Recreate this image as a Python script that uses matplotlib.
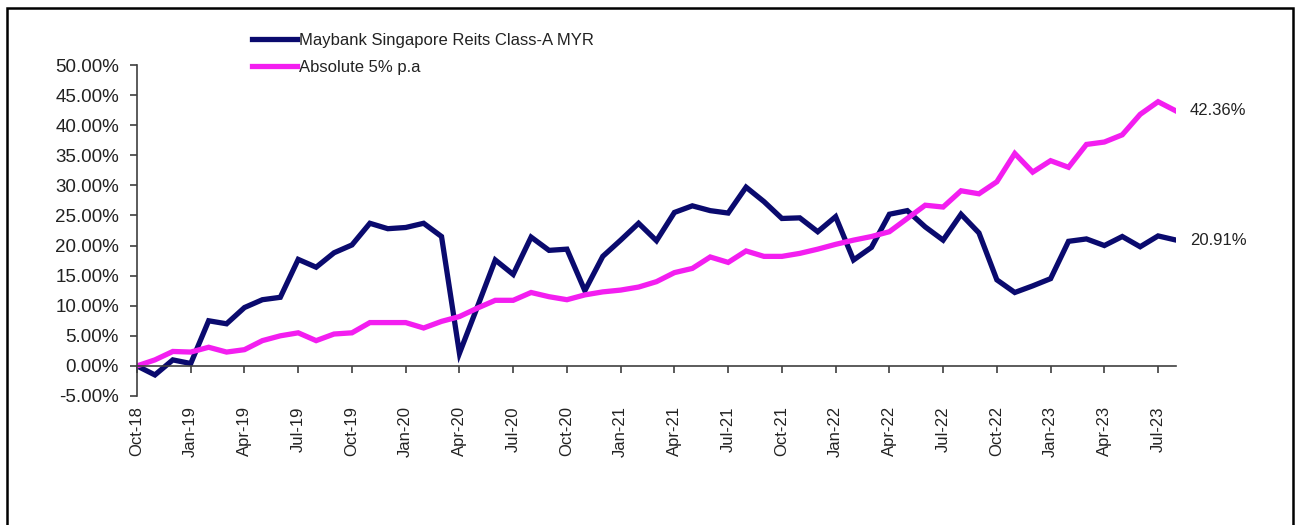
import numpy as np
import pandas as pd
import matplotlib
matplotlib.use("Agg")
import matplotlib.pyplot as plt
from matplotlib.patches import Rectangle

plt.rcParams['font.family'] = ['Liberation Sans', 'DejaVu Sans']

# monthly points Oct-18 .. Aug-23
months = pd.date_range('2018-10-01', periods=59, freq='MS')

maybank = [0.0, -1.5, 1.0, 0.4, 7.5, 7.0, 9.7, 11.0, 11.4, 17.7,
           16.4, 18.8, 20.1, 23.7, 22.8, 23.0, 23.7, 21.5, 2.1, 9.8,
           17.6, 15.2, 21.4, 19.2, 19.4, 12.5, 18.2, 20.9, 23.7, 20.8,
           25.5, 26.6, 25.8, 25.4, 29.7, 27.3, 24.5, 24.6, 22.3, 24.8,
           17.6, 19.7, 25.2, 25.8, 23.1, 20.9, 25.2, 22.1, 14.3, 12.2,
           13.3, 14.5, 20.7, 21.1, 20.0, 21.5, 19.8, 21.6, 20.91]

absolute = [0.0, 1.0, 2.4, 2.3, 3.1, 2.3, 2.7, 4.2, 5.0, 5.5,
            4.2, 5.3, 5.5, 7.2, 7.2, 7.2, 6.3, 7.4, 8.2, 9.6,
            10.9, 10.9, 12.2, 11.5, 11.0, 11.8, 12.3, 12.6, 13.1, 14.0,
            15.5, 16.2, 18.1, 17.2, 19.1, 18.2, 18.2, 18.7, 19.4, 20.2,
            20.9, 21.5, 22.3, 24.5, 26.7, 26.4, 29.1, 28.6, 30.6, 35.3,
            32.2, 34.1, 33.0, 36.8, 37.2, 38.4, 41.8, 43.9, 42.36]

labels = ['Maybank Singapore Reits Class-A MYR', 'Absolute 5% p.a']
navy = '#0a0a6e'
pink = '#f31ef0'

W, H = 1295, 525
fig = plt.figure(figsize=(W / 100, H / 100), dpi=100)
ax = fig.add_axes([137 / W, 1 - 396 / H, (1176 - 137) / W, (396 - 65) / H])

x = np.arange(len(months))
ax.plot(x, maybank, color=navy, lw=3.8, label=labels[0], solid_joinstyle='miter')
ax.plot(x, absolute, color=pink, lw=3.8, label=labels[1], solid_joinstyle='miter')

ax.set_xlim(0, len(months) - 1)
ax.set_ylim(-5, 50)

ax.spines['top'].set_visible(False)
ax.spines['right'].set_visible(False)
ax.spines['bottom'].set_position(('data', 0))
for s in ['left', 'bottom']:
    ax.spines[s].set_color('#404040')
    ax.spines[s].set_linewidth(1.2)

ax.set_yticks(np.arange(-5, 51, 5))
ax.set_yticklabels(['{:.2f}%'.format(v) for v in np.arange(-5, 51, 5)])
ax.tick_params(axis='y', direction='out', length=5, width=1.2, color='#404040',
               labelsize=13.5, pad=8, labelcolor='#222222')

tick_idx = x[::3]
ax.set_xticks(tick_idx)
ax.set_xticklabels([months[i].strftime('%b-%y') for i in tick_idx], rotation=90)
ax.tick_params(axis='x', direction='out', length=5, width=1.2, color='#404040',
               labelsize=12, pad=24, labelcolor='#222222')

# end-of-series labels
ax.annotate('{:.2f}%'.format(absolute[-1]), (x[-1], absolute[-1]), xytext=(10, 0),
            textcoords='offset points', va='center', ha='left', fontsize=12,
            color='#222222', annotation_clip=False)
ax.annotate('{:.2f}%'.format(maybank[-1]), (x[-1], maybank[-1]), xytext=(10, 0),
            textcoords='offset points', va='center', ha='left', fontsize=12,
            color='#222222', annotation_clip=False)

leg = ax.legend(loc='upper left', bbox_to_anchor=(252 / W, 1 - 33 / H),
                bbox_transform=fig.transFigure, frameon=False, fontsize=12,
                handlelength=2.7, handletextpad=0.1, labelspacing=0.7,
                borderpad=0, borderaxespad=0)
for t in leg.get_texts():
    t.set_color('#222222')

# outer frame
fig.patches.append(Rectangle((7 / W, -0.05), (1293 - 7) / W, 1 - 8 / H + 0.05,
                             transform=fig.transFigure, fill=False,
                             edgecolor='black', lw=1.8))

fig.savefig('out.png', dpi=100)
